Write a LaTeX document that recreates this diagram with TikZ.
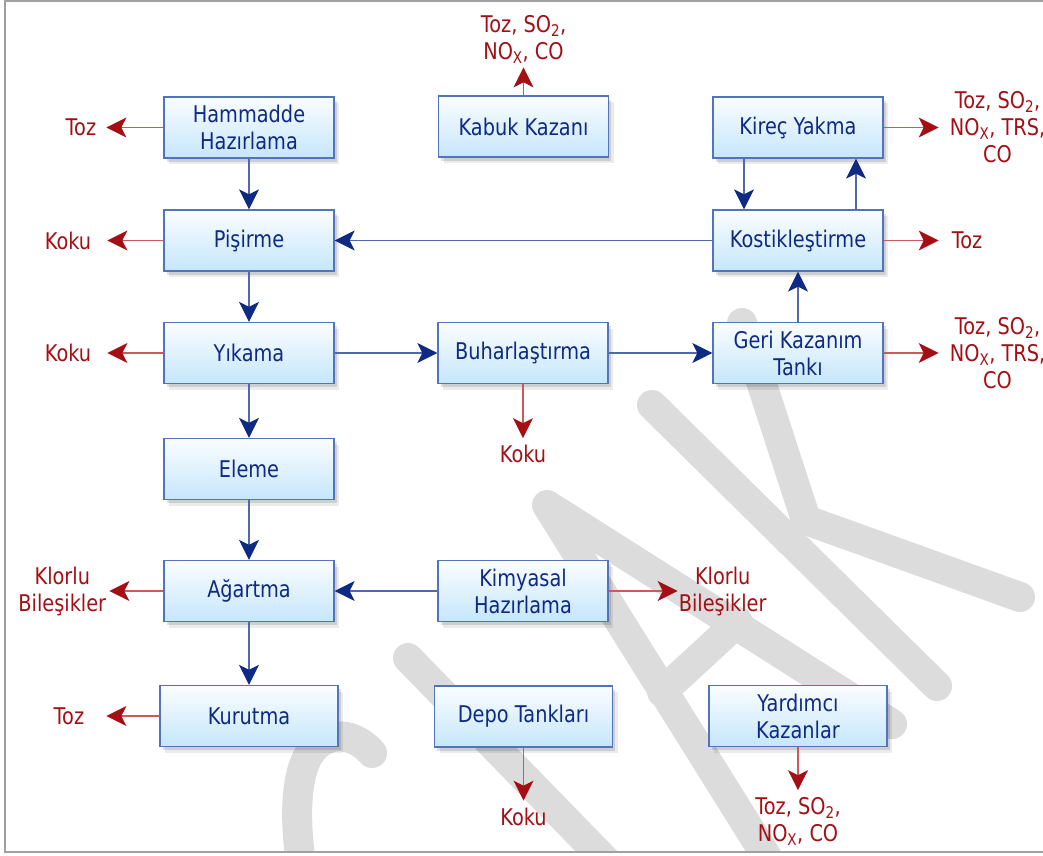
\documentclass[tikz,border=0pt]{standalone}
\usepackage{fontspec}
\setmainfont{DejaVu Sans}[FakeStretch=0.84]
\usepackage{tikz}
\usetikzlibrary{arrows.meta,positioning,shadows}
\definecolor{Navy}{HTML}{0E2A82}
\definecolor{FlowLine}{HTML}{5068B0}
\definecolor{Rust}{HTML}{A30F14}
\definecolor{RustLine}{HTML}{CC5A5A}
\definecolor{BoxEdge}{HTML}{5274BD}
\definecolor{BoxTop}{HTML}{FAFDFF}
\definecolor{BoxBot}{HTML}{C6E6FB}
\definecolor{Mark}{HTML}{DCDCDC}
\definecolor{Frame}{HTML}{A0A0A0}

\begin{document}
\begin{tikzpicture}[x=1pt,y=-1pt,font=\fontsize{23}{27}\selectfont,
  unit/.style={draw=BoxEdge,line width=1.3pt,top color=BoxTop,bottom color=BoxBot,
    minimum width=170pt,minimum height=61pt,inner sep=0pt,align=center,text=Navy,
    drop shadow={shadow xshift=5pt,shadow yshift=-6pt,opacity=.08,fill=black},
    drop shadow={shadow xshift=2.5pt,shadow yshift=-3.5pt,opacity=.12,fill=black}},
  wide/.style={unit,minimum width=178pt},
  emis/.style={text=Rust,align=center,inner sep=0pt},
  flow/.style={draw=FlowLine,line width=1.1pt,-{Stealth[length=20pt,width=20pt,inset=5pt,color=Navy]}},
  vent/.style={draw=RustLine,line width=1.1pt,-{Stealth[length=20pt,width=20pt,inset=5pt,color=Rust]}},
  stamp/.style={draw=Mark,line width=30pt,line cap=round,line join=round}]
\useasboundingbox (0,0) rectangle (1043,855);
\begin{scope}
\clip (5,1) rectangle (1043,852);
\draw[stamp] (372,753) .. controls (352,730) and (322,730) .. (307,758) .. controls (296,780) and (294,820) .. (302,870);
\draw[stamp] (408,658) -- (640,896);
\draw[stamp] (775,870) -- (547,505) -- (892,724);
\draw[stamp] (662,692) -- (738,622);
\draw[stamp] (652,405) -- (937,686);
\draw[stamp] (742,323) -- (806,520) -- (1020,597);
\end{scope}
\draw[Frame,line width=1.2pt] (5,1) rectangle (1060,852);

\node[unit] (ham) at (249,127.5) {Hammadde\\Hazırlama};
\node[unit] (pis) at (249,240.5) {Pişirme};
\node[unit] (yik) at (249,353) {Yıkama};
\node[unit] (ele) at (249,469) {Eleme};
\node[unit] (aga) at (249,591) {Ağartma};
\node[wide] (kur) at (249,716) {Kurutma};
\node[unit] (kab) at (523.5,126.5) {Kabuk Kazanı};
\node[unit] (buh) at (523,353) {Buharlaştırma};
\node[unit] (kim) at (523,591) {Kimyasal\\Hazırlama};
\node[wide] (dep) at (523.5,716.5) {Depo Tankları};
\node[unit] (kir) at (798,127.5) {Kireç Yakma};
\node[unit] (kos) at (798,240.5) {Kostikleştirme};
\node[unit] (ger) at (798,353) {Geri Kazanım\\Tankı};
\node[wide] (yar) at (798,716) {Yardımcı\\Kazanlar};

\node[emis,left=57pt of ham,inner xsep=10pt] (tozHam) {Toz};
\node[emis,left=56pt of pis,inner xsep=16pt] (kokuPis) {Koku};
\node[emis,left=56pt of yik,inner xsep=16pt] (kokuYik) {Koku};
\node[emis,left=54pt of aga,inner xsep=3pt] (klorAga) {Klorlu\\Bileşikler};
\node[emis,left=53pt of kur,inner xsep=22pt] (tozKur) {Toz};
\node[emis,above=28pt of kab,inner ysep=4pt] (gazKab) {Toz, SO\textsubscript{2},\\NO\textsubscript{X}, CO};
\node[emis,right=55pt of kir,inner xsep=11pt] (gazKir) {Toz, SO\textsubscript{2},\\NO\textsubscript{X}, TRS,\\CO};
\node[emis,right=55pt of kos,inner xsep=13pt] (tozKos) {Toz};
\node[emis,right=55pt of ger,inner xsep=11pt] (gazGer) {Toz, SO\textsubscript{2},\\NO\textsubscript{X}, TRS,\\CO};
\node[emis,below=54pt of buh,inner ysep=7pt] (kokuBuh) {Koku};
\node[emis,right=69pt of kim,inner xsep=1pt] (klorKim) {Klorlu\\Bileşikler};
\node[emis,below=53pt of dep,inner ysep=7pt] (kokuDep) {Koku};
\node[emis,below=43pt of yar,inner ysep=7pt] (gazYar) {Toz, SO\textsubscript{2},\\NO\textsubscript{X}, CO};

\draw[flow] (ham) -- (pis);
\draw[flow] (pis) -- (yik);
\draw[flow] (yik) -- (ele);
\draw[flow] (ele) -- (aga);
\draw[flow] (aga) -- (kur);
\draw[flow] (kos) -- (pis);
\draw[flow] (yik) -- (buh);
\draw[flow] (buh) -- (ger);
\draw[flow] (ger) -- (kos);
\draw[flow] ([xshift=-54pt]kir.south) -- ([xshift=-54pt]kos.north);
\draw[flow] ([xshift=58pt]kos.north) -- ([xshift=58pt]kir.south);
\draw[flow] (kim) -- (aga);

\foreach \a/\b in {ham/tozHam,pis/kokuPis,yik/kokuYik,aga/klorAga,kur/tozKur,kab/gazKab,kir/gazKir,kos/tozKos,ger/gazGer,buh/kokuBuh,kim/klorKim,dep/kokuDep,yar/gazYar}
  \draw[vent] (\a) -- (\b);
\end{tikzpicture}
\end{document}
